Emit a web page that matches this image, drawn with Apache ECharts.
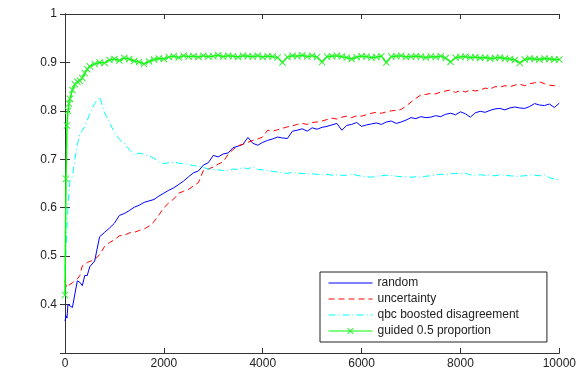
<!DOCTYPE html>
<html>
<head>
<meta charset="utf-8">
<script src="https://cdn.jsdelivr.net/npm/echarts@6/dist/echarts.min.js"></script>
<style>
html,body{margin:0;padding:0;background:#fff;}
#chart{width:579px;height:371px;}
</style>
</head>
<body>
<div id="chart"></div>
<script>
const xs = [0,20,40,60,80,100,150,200,250,300,350,400,450,500,
600,700,800,900,1000,1100,1200,1300,1400,1500,
1600,1700,1800,1900,2000,2100,2200,2300,2400,2500,
2600,2700,2800,2900,3000,3100,3200,3300,3400,3500,
3600,3700,3800,3900,4000,4100,4200,4300,4400,4500,
4600,4700,4800,4900,5000,5100,5200,5300,5400,5500,
5600,5700,5800,5900,6000,6100,6200,6300,6400,6500,
6600,6700,6800,6900,7000,7100,7200,7300,7400,7500,
7600,7700,7800,7900,8000,8100,8200,8300,8400,8500,
8600,8700,8800,8900,9000,9100,9200,9300,9400,9500,
9600,9700,9800,9900,10000];

const randomVals = [0.366,0.377,0.372,0.400,0.399,0.396,0.394,0.422,0.449,0.446,0.439,0.460,0.460,0.478,
0.490,0.540,0.549,0.558,0.568,0.584,0.588,0.594,0.601,0.605,
0.611,0.614,0.617,0.624,0.630,0.636,0.641,0.648,0.655,0.664,
0.672,0.676,0.688,0.693,0.708,0.705,0.711,0.713,0.724,0.727,
0.731,0.745,0.733,0.729,0.735,0.739,0.742,0.746,0.744,0.743,
0.758,0.760,0.763,0.758,0.765,0.762,0.766,0.768,0.771,0.774,
0.760,0.770,0.772,0.776,0.768,0.771,0.773,0.775,0.772,0.777,
0.779,0.774,0.777,0.781,0.786,0.784,0.788,0.786,0.787,0.790,
0.788,0.793,0.795,0.792,0.798,0.794,0.787,0.796,0.799,0.797,
0.801,0.804,0.805,0.802,0.806,0.808,0.806,0.805,0.809,0.815,
0.812,0.811,0.814,0.807,0.816];

const uncertaintyVals = [0.449,0.440,0.435,0.438,0.440,0.442,0.445,0.449,0.453,0.460,0.480,0.482,0.487,0.489,
0.493,0.503,0.520,0.528,0.534,0.542,0.543,0.548,0.549,0.553,
0.556,0.562,0.571,0.585,0.600,0.610,0.618,0.630,0.634,0.638,
0.645,0.652,0.677,0.680,0.684,0.690,0.695,0.710,0.720,0.728,
0.731,0.735,0.739,0.742,0.746,0.760,0.758,0.761,0.764,0.767,
0.769,0.772,0.774,0.772,0.776,0.777,0.779,0.782,0.785,0.783,
0.787,0.789,0.786,0.790,0.789,0.792,0.795,0.797,0.795,0.798,
0.800,0.801,0.803,0.810,0.818,0.826,0.833,0.834,0.836,0.835,
0.839,0.841,0.843,0.838,0.842,0.839,0.843,0.841,0.843,0.847,
0.845,0.850,0.849,0.852,0.850,0.853,0.855,0.852,0.856,0.858,
0.860,0.856,0.853,0.852,0.850];

const qbcVals = [0.470,0.510,0.560,0.600,0.630,0.656,0.665,0.700,0.730,0.753,0.760,0.767,0.780,0.794,
0.815,0.829,0.796,0.776,0.755,0.741,0.733,0.720,0.709,0.713,
0.710,0.707,0.702,0.695,0.691,0.693,0.694,0.692,0.691,0.689,
0.687,0.686,0.683,0.680,0.679,0.678,0.677,0.676,0.680,0.679,
0.683,0.680,0.685,0.679,0.678,0.677,0.675,0.674,0.672,0.671,
0.673,0.671,0.671,0.670,0.670,0.669,0.668,0.669,0.667,0.668,
0.667,0.667,0.670,0.667,0.665,0.664,0.663,0.665,0.666,0.667,
0.667,0.665,0.664,0.664,0.663,0.664,0.663,0.665,0.666,0.668,
0.669,0.669,0.670,0.671,0.670,0.671,0.668,0.667,0.668,0.667,
0.667,0.666,0.668,0.667,0.666,0.665,0.665,0.666,0.668,0.667,
0.666,0.668,0.662,0.659,0.658];

const guidedVals = [0.420,0.660,0.770,0.800,0.815,0.825,0.843,0.855,0.860,0.862,0.868,0.878,0.886,0.892,
0.897,0.900,0.899,0.905,0.907,0.904,0.909,0.907,0.903,0.901,
0.897,0.902,0.906,0.908,0.907,0.911,0.913,0.910,0.914,0.912,
0.913,0.911,0.914,0.912,0.913,0.915,0.912,0.914,0.913,0.911,
0.914,0.913,0.912,0.914,0.911,0.913,0.912,0.910,0.900,0.911,
0.914,0.913,0.915,0.912,0.914,0.911,0.901,0.912,0.913,0.914,
0.912,0.910,0.907,0.911,0.913,0.912,0.910,0.911,0.913,0.900,
0.912,0.913,0.914,0.911,0.912,0.913,0.912,0.910,0.912,0.911,
0.913,0.909,0.901,0.910,0.911,0.912,0.910,0.911,0.909,0.910,
0.908,0.909,0.910,0.908,0.907,0.905,0.899,0.906,0.908,0.907,
0.906,0.908,0.907,0.906,0.906];

const seriesNames = ['random','uncertainty','qbc boosted disagreement','guided 0.5 proportion'];
const xTicks = {min:0, max:10000, interval:2000};
const yTicks = {min:0.3, max:1, interval:0.1};

const chart = echarts.init(document.getElementById('chart'), null, {renderer:'canvas'});
const pair = vals => xs.map((x,i)=>[x, vals[i]]);
const axisCol = '#333';
const font = 'Arial, "Liberation Sans", sans-serif';
const xMark = 'path://M0,1L1,0L5,4L9,0L10,1L6,5L10,9L9,10L5,6L1,10L0,9L4,5Z';

const option = {
  animation:false,
  backgroundColor:'#fff',
  grid:{left:65, right:19, top:14, bottom:18, containLabel:false},
  xAxis:[
    {type:'value', min:xTicks.min, max:xTicks.max, interval:xTicks.interval, position:'bottom',
     axisLine:{show:true, lineStyle:{color:axisCol, width:1}},
     axisTick:{show:true, inside:true, length:5, lineStyle:{color:axisCol}},
     axisLabel:{show:true, color:'#222', fontSize:12, fontFamily:font, margin:5,
       formatter: v => String(v)},
     splitLine:{show:false}},
    {type:'value', min:xTicks.min, max:xTicks.max, interval:xTicks.interval, position:'top',
     axisLine:{show:true, lineStyle:{color:axisCol, width:1}},
     axisTick:{show:true, inside:true, length:5, lineStyle:{color:axisCol}},
     axisLabel:{show:false}, splitLine:{show:false}}
  ],
  yAxis:[
    {type:'value', min:yTicks.min, max:yTicks.max, interval:yTicks.interval, position:'left',
     axisLine:{show:true, lineStyle:{color:axisCol, width:1}},
     axisTick:{show:true, inside:true, length:5, lineStyle:{color:axisCol}},
     axisLabel:{show:true, color:'#222', fontSize:12, fontFamily:font, margin:8,
       formatter: v => (Math.abs(v-0.3)<1e-6) ? '' : (Math.abs(v-1)<1e-6 ? '1' : v.toFixed(1))},
     splitLine:{show:false}},
    {type:'value', min:yTicks.min, max:yTicks.max, interval:yTicks.interval, position:'right',
     axisLine:{show:true, lineStyle:{color:axisCol, width:1}},
     axisTick:{show:true, inside:true, length:5, lineStyle:{color:axisCol}},
     axisLabel:{show:false}, splitLine:{show:false}}
  ],
  legend:{
    orient:'vertical', left:320, top:272,
    backgroundColor:'#fff', borderColor:'#222', borderWidth:1,
    padding:[4,28,4,8], itemWidth:44, itemHeight:8, itemGap:2,
    lineStyle:{width:1},
    textStyle:{fontSize:12, lineHeight:14, fontFamily:font, color:'#222', padding:[0,0,0,0]},
    data:[
      {name:seriesNames[0], itemStyle:{opacity:0}},
      {name:seriesNames[1], itemStyle:{opacity:0}},
      {name:seriesNames[2], itemStyle:{opacity:0}},
      {name:seriesNames[3]}
    ]
  },
  series:[
    {name:seriesNames[0], type:'line', data:pair(randomVals), symbol:'none',
     lineStyle:{color:'#0000ff', width:1}, itemStyle:{color:'#0000ff'}},
    {name:seriesNames[1], type:'line', data:pair(uncertaintyVals), symbol:'none',
     lineStyle:{color:'#ff0000', width:1, type:[6,4]}, itemStyle:{color:'#ff0000'}},
    {name:seriesNames[2], type:'line', data:pair(qbcVals), symbol:'none',
     lineStyle:{color:'#00ffff', width:1, type:[7,3,1,3]}, itemStyle:{color:'#00ffff'}},
    {name:seriesNames[3], type:'line', data:pair(guidedVals), symbol:xMark, symbolSize:7,
     showAllSymbol:true,
     lineStyle:{color:'#00ff00', width:1.5}, itemStyle:{color:'#33ee33'}}
  ]
};
chart.setOption(option);
</script>
</body>
</html>
